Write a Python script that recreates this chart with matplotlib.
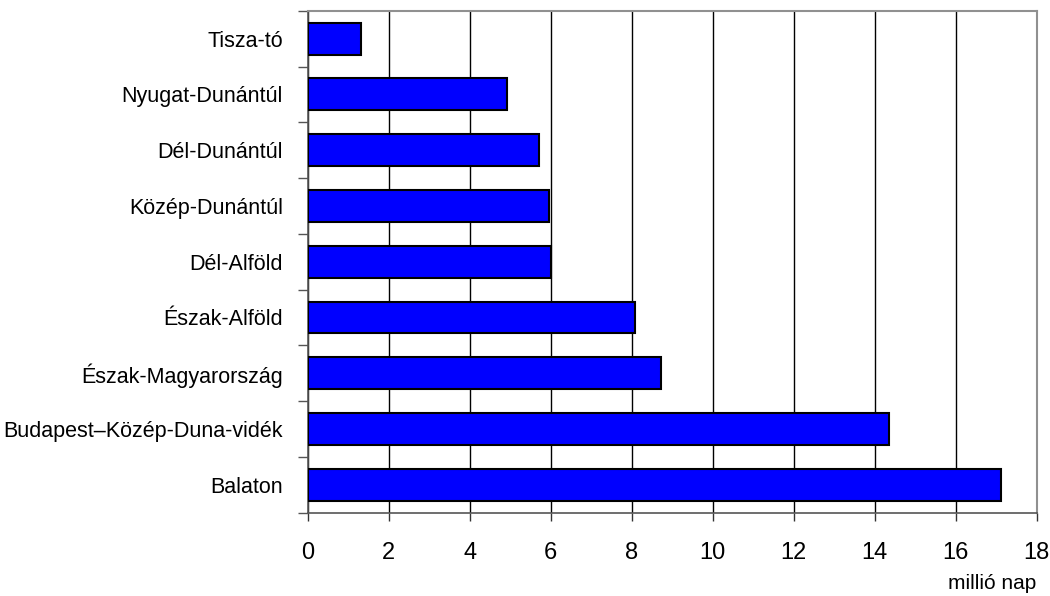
import numpy as np
import matplotlib.pyplot as plt

# regions, top to bottom as drawn (bottom first for barh)
regions = ["Balaton", "Budapest–Közép-Duna-vidék", "Észak-Magyarország",
           "Észak-Alföld", "Dél-Alföld", "Közép-Dunántúl", "Dél-Dunántúl",
           "Nyugat-Dunántúl", "Tisza-tó"]
values = [17.12, 14.35, 8.72, 8.07, 6.01, 5.95, 5.71, 4.92, 1.31]
xticks = [0, 2, 4, 6, 8, 10, 12, 14, 16, 18]

plt.rcParams['font.family'] = ["Liberation Sans", "DejaVu Sans"]

fig = plt.figure(figsize=(10.5, 5.96), dpi=100)
ax = fig.add_axes([0.2933, 0.1398, 0.9873 - 0.2933, 0.982 - 0.1398])

y = np.arange(len(regions))
ax.barh(y, values, height=0.57, color="#0000FF", edgecolor="black",
        linewidth=1.5, zorder=3)

ax.set_xlim(0, 18)
ax.set_ylim(-0.5, len(regions) - 0.5)
ax.set_xticks(xticks)
ax.set_xticklabels([str(t) for t in xticks], fontsize=17)
ax.xaxis.grid(True, color="black", linewidth=1, zorder=0)

# category labels between tick marks placed at boundaries
ax.set_yticks(np.arange(-0.5, len(regions), 1.0))
ax.set_yticklabels([])
ax.set_yticks(y, minor=True)
ax.set_yticklabels(regions, minor=True, fontsize=15.5)
ax.tick_params(axis="y", which="minor", length=0, pad=18)
ax.tick_params(axis="y", which="major", length=7, width=1, color="#555555",
               direction="out")
ax.tick_params(axis="x", length=6, width=1, color="#333333", pad=15,
               direction="out")

for side in ["top", "right"]:
    ax.spines[side].set_color("#909090")
    ax.spines[side].set_linewidth(1.5)
for side in ["left", "bottom"]:
    ax.spines[side].set_color("#555555")
    ax.spines[side].set_linewidth(1.2)

fig.text(0.9873, 0.005, "millió nap", ha="right", va="bottom", fontsize=15)

plt.savefig("out.png", dpi=100)
